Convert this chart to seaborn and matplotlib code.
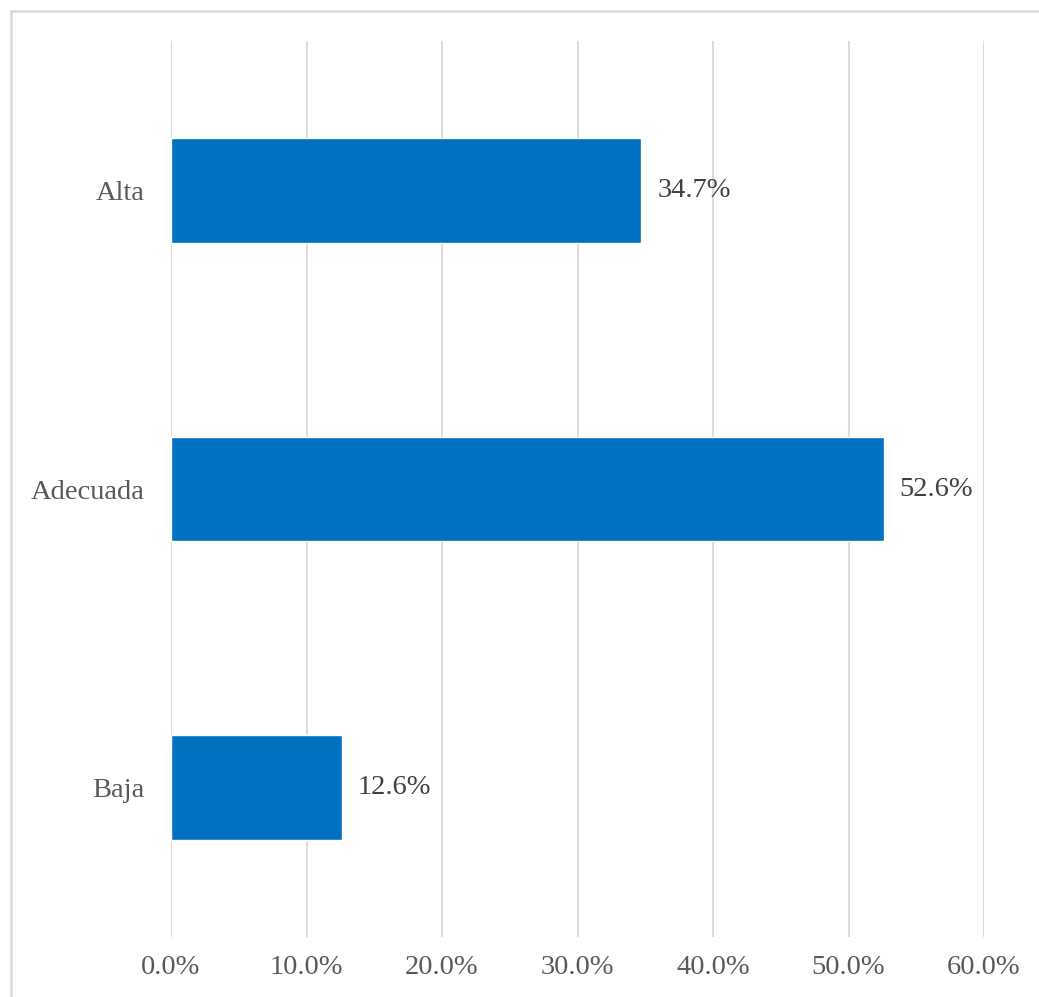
import matplotlib
matplotlib.use("Agg")
import matplotlib.pyplot as plt
from matplotlib.lines import Line2D
from matplotlib.ticker import FuncFormatter, MultipleLocator
import seaborn as sns
import pandas as pd

# Valoración por nivel (proporción de respuestas)
categorias = ["Alta", "Adecuada", "Baja"]
porcentajes = [0.347, 0.526, 0.126]

BAR_COLOR = "#0070C0"
GRID_COLOR = "#D9D9D9"
TICK_COLOR = "#595959"
LABEL_COLOR = "#404040"

sns.set_theme(style="white")
plt.rcParams["font.family"] = ["Liberation Serif", "DejaVu Serif"]
plt.rcParams["font.size"] = 20.5

df = pd.DataFrame({"nivel": categorias, "valor": porcentajes})

W, H = 1039, 997
fig = plt.figure(figsize=(W / 100, H / 100), dpi=100)
ax = fig.add_axes([171 / W, (H - 937) / H, (984 - 171) / W, (937 - 41) / H])

sns.barplot(data=df, y="nivel", x="valor", order=categorias, orient="h",
            color=BAR_COLOR, saturation=1, width=0.35, ax=ax)

ax.set_xlim(0, 0.6)
ax.xaxis.set_major_locator(MultipleLocator(0.1))
ax.xaxis.set_major_formatter(FuncFormatter(lambda v, _: f"{v * 100:.1f}%"))
ax.set_xlabel("")
ax.set_ylabel("")

ax.grid(axis="x", color=GRID_COLOR, linewidth=1.3)
ax.grid(axis="y", visible=False)
ax.set_axisbelow(True)
for side in ("top", "right", "bottom", "left"):
    ax.spines[side].set_visible(False)

ax.tick_params(axis="x", length=0, pad=13, labelsize=20.5, labelcolor=TICK_COLOR)
ax.tick_params(axis="y", length=0, pad=19, labelsize=20.5, labelcolor=TICK_COLOR)

for cont in ax.containers:
    ax.bar_label(cont, labels=[f"{v * 100:.1f}%" for v in porcentajes],
                 padding=11.5, fontsize=20.5, color=LABEL_COLOR)

# Chart area border (top and left edges of the frame)
x0, y0 = 10.5 / W, (H - 11.5) / H
fig.add_artist(Line2D([x0, 1.0], [y0, y0], transform=fig.transFigure,
                      color=GRID_COLOR, linewidth=1.8))
fig.add_artist(Line2D([x0, x0], [0.0, y0], transform=fig.transFigure,
                      color=GRID_COLOR, linewidth=1.8))

fig.savefig("out.png", dpi=100, facecolor="white")
